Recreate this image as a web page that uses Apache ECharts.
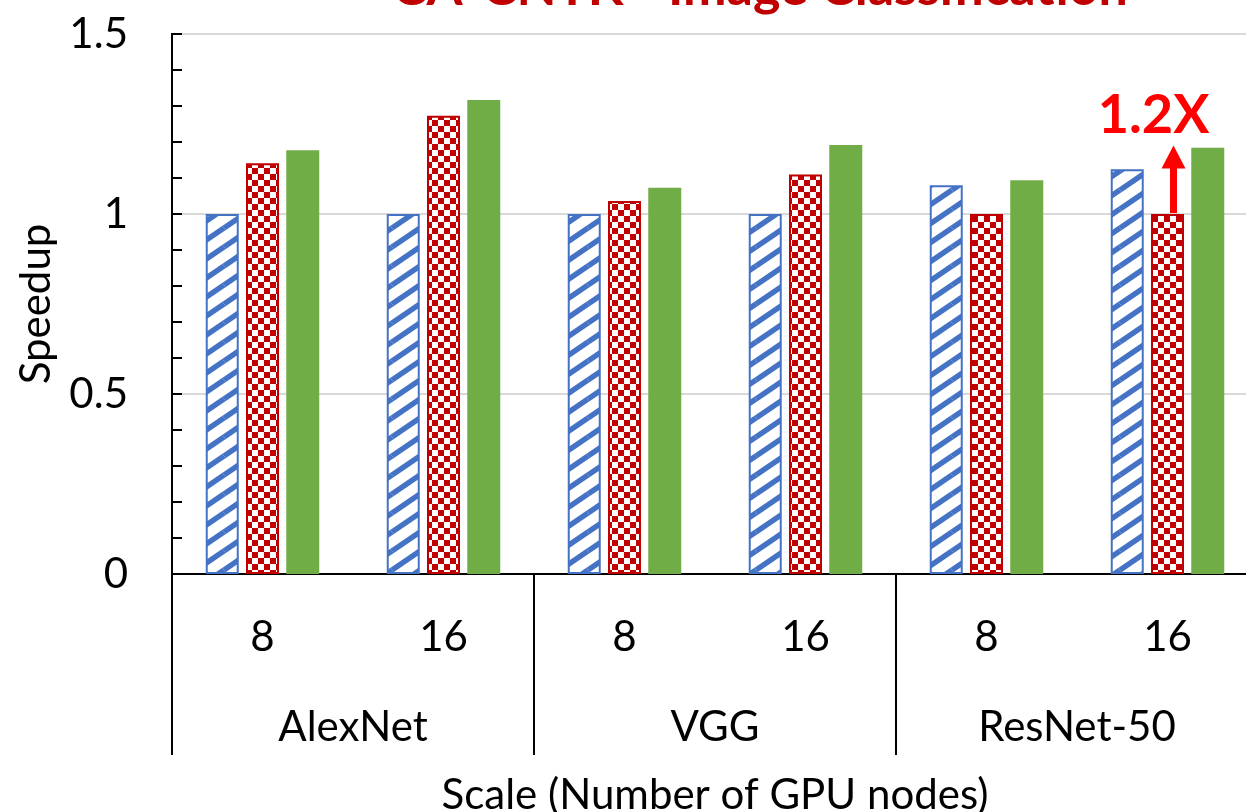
<!DOCTYPE html>
<html>
<head>
<meta charset="utf-8">
<script src="https://cdn.jsdelivr.net/npm/echarts@6/dist/echarts.min.js"></script>
<style>
html,body{margin:0;padding:0;background:#fff;overflow:hidden;}
#chart{width:1246px;height:812px;}
</style>
</head>
<body>
<div id="chart"></div>
<script>
// ---- data ----
var categories = ['8', '16', '8', '16', '8', '16'];
var groups = ['AlexNet', 'VGG', 'ResNet-50'];
var seriesBlue = [1.0, 1.0, 1.0, 1.0, 1.08, 1.124];
var seriesRed = [1.141, 1.273, 1.036, 1.110, 1.0, 1.0];
var seriesGreen = [1.177, 1.317, 1.073, 1.192, 1.094, 1.184];
var yTicks = [0, 0.5, 1, 1.5];
var titleText = 'CA-CNTK - Image Classification';
var annotText = '1.2X';
var annotIndex = 5;
var annotFrom = 1.0;
var annotTo = 1.19;

var FONT = 'Lato';

function stripeTile() {
  var c = document.createElement('canvas');
  var w = 28, h = 19;
  c.width = w; c.height = h;
  var g = c.getContext('2d');
  g.fillStyle = '#fff'; g.fillRect(0, 0, w, h);
  g.strokeStyle = '#4472C4'; g.lineWidth = 5.5;
  for (var dx = -1; dx <= 1; dx++) {
    for (var dy = -1; dy <= 1; dy++) {
      g.beginPath();
      g.moveTo(dx * w, h + dy * h);
      g.lineTo(w + dx * w, dy * h);
      g.stroke();
    }
  }
  return c;
}
function checkTile() {
  var c = document.createElement('canvas');
  var s = 6;
  c.width = 2 * s; c.height = 2 * s;
  var g = c.getContext('2d');
  g.fillStyle = '#fff'; g.fillRect(0, 0, 2 * s, 2 * s);
  g.fillStyle = '#C00000';
  g.fillRect(0, 0, s, s);
  g.fillRect(s, s, s, s);
  return c;
}

var chart = echarts.init(document.getElementById('chart'), null, {renderer: 'canvas'});

var option = {
  animation: false,
  backgroundColor: '#fff',
  grid: {
    left: 172, top: 34, right: -12, bottom: 238,
    outerBoundsMode: 'none', containLabel: false,
    show: true, borderColor: '#000', borderWidth: 2, backgroundColor: 'transparent'
  },
  xAxis: [
    {
      type: 'category', data: categories, position: 'bottom',
      axisLine: {show: true, lineStyle: {color: '#000', width: 2}},
      axisTick: {show: false},
      axisLabel: {fontFamily: FONT, fontSize: 42, color: '#000', margin: 42}
    },
    {
      type: 'category', data: groups, position: 'bottom',
      axisLine: {show: false},
      axisTick: {show: true, length: 181, interval: 0, lineStyle: {color: '#000', width: 2}},
      axisLabel: {fontFamily: FONT, fontSize: 42, color: '#000', margin: 132},
      name: 'Scale (Number of GPU nodes)', nameLocation: 'middle', nameGap: 200,
      nameTextStyle: {fontFamily: FONT, fontSize: 42, color: '#000'}
    }
  ],
  yAxis: {
    type: 'value', min: 0, max: 1.5, interval: 0.5,
    axisLine: {show: true, lineStyle: {color: '#000', width: 2}},
    axisTick: {show: true, inside: true, length: 10, lineStyle: {color: '#000', width: 2}},
    minorTick: {show: true, splitNumber: 5, length: 10, lineStyle: {color: '#000', width: 2}},
    splitLine: {show: true, lineStyle: {color: '#D9D9D9', width: 2}},
    axisLabel: {
      fontFamily: FONT, fontSize: 42, color: '#000', margin: 44,
      formatter: function (v) { return yTicks.indexOf(v) >= 0 ? String(v) : ''; }
    },
    name: 'Speedup', nameLocation: 'middle', nameGap: 115,
    nameTextStyle: {fontFamily: FONT, fontSize: 42, color: '#000'}
  },
  series: [
    {
      type: 'bar', data: seriesBlue, barWidth: 33, barGap: '22%',
      itemStyle: {color: {image: stripeTile(), repeat: 'repeat'}, borderColor: '#4472C4', borderWidth: 2}
    },
    {
      type: 'bar', data: seriesRed, barWidth: 33, barGap: '22%',
      itemStyle: {color: {image: checkTile(), repeat: 'repeat'}, borderColor: '#C00000', borderWidth: 2}
    },
    {
      type: 'bar', data: seriesGreen, barWidth: 33, barGap: '22%',
      itemStyle: {color: '#70AD47'}
    }
  ]
};
chart.setOption(option);

var p0 = chart.convertToPixel({xAxisIndex: 0, yAxisIndex: 0}, [annotIndex, annotFrom]);
var p1 = chart.convertToPixel({xAxisIndex: 0, yAxisIndex: 0}, [annotIndex, annotTo]);
var ax = p0[0] + 6;
var headH = 23;
chart.setOption({
  graphic: [
    {
      type: 'text', x: 760, y: -38,
      style: {text: titleText, font: 'bold 52px ' + FONT, fill: '#C00000', textAlign: 'center', textVerticalAlign: 'top'}
    },
    {
      type: 'line', shape: {x1: ax, y1: p0[1] - 1, x2: ax, y2: p1[1] + headH - 2},
      style: {stroke: '#FF0000', lineWidth: 7}
    },
    {
      type: 'polygon', shape: {points: [[ax - 12, p1[1] + headH], [ax + 12, p1[1] + headH], [ax, p1[1]]]},
      style: {fill: '#FF0000'}
    },
    {
      type: 'text', x: ax - 20, y: p1[1] - 30,
      style: {text: annotText, font: 'bold 54px ' + FONT, fill: '#FF0000', textAlign: 'center', textVerticalAlign: 'middle'}
    }
  ]
});
</script>
</body>
</html>
